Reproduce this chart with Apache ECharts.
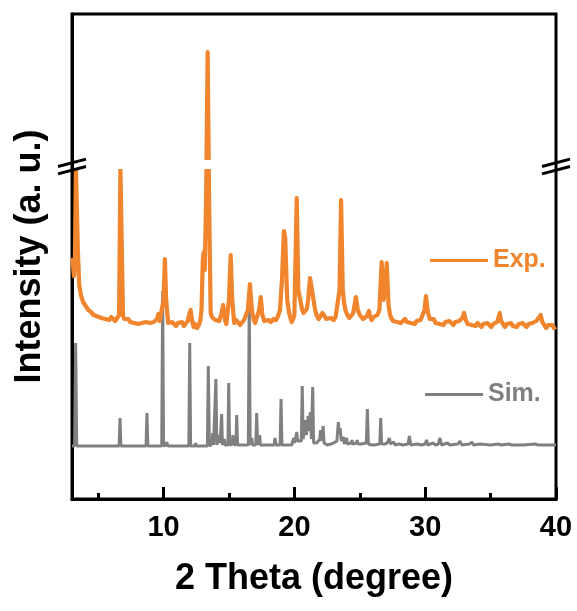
<!DOCTYPE html>
<html>
<head>
<meta charset="utf-8">
<script src="https://cdn.jsdelivr.net/npm/echarts@6/dist/echarts.min.js"></script>
<style>
html,body{margin:0;padding:0;background:#fff;}
#chart{width:577px;height:611px;}
</style>
</head>
<body>
<div id="chart"></div>
<script>
// ---- data: [2θ (degree), intensity (arbitrary display units)] ----
const expPattern = [
  [3.00,241],[3.08,234],[3.15,223],[3.22,237],[3.30,330],[3.38,330],[3.45,249],[3.55,214],[3.70,203],[3.85,197],
  [3.95,199],[4.05,193],[4.15,192],[4.25,189],[4.35,191],[4.45,187],[4.55,188],[4.65,184],[4.75,186],[4.85,183],
  [4.95,185],[5.05,182],[5.15,184],[5.25,181],[5.40,183],[5.55,180],[5.70,182],[5.85,179],[6.00,182],[6.15,180],
  [6.30,178],[6.45,181],[6.60,184],[6.70,330],[6.78,330],[6.90,183],[7.00,180],[7.15,178],[7.30,180],[7.45,177],
  [7.60,179],[7.75,176],[7.90,178],[8.05,175],[8.20,177],[8.35,176],[8.50,174],[8.65,177],[8.80,175],[8.95,176],
  [9.10,174],[9.25,177],[9.40,176],[9.50,180],[9.60,185],[9.70,178],[9.85,177],[10.00,199],[10.10,240],[10.20,199],
  [10.35,176],[10.50,174],[10.65,177],[10.80,175],[10.95,173],[11.10,176],[11.25,174],[11.40,177],[11.55,173],[11.70,175],
  [11.85,178],[11.95,184],[12.07,189],[12.20,177],[12.30,172],[12.40,175],[12.55,171],[12.70,174],[12.80,178],[12.90,189],
  [13.00,239],[13.07,247],[13.15,229],[13.25,299],[13.37,447],[13.48,299],[13.60,186],[13.70,182],[13.80,184],[13.95,179],
  [14.10,181],[14.25,178],[14.40,184],[14.56,194],[14.70,179],[14.80,175],[14.90,177],[15.00,199],[15.13,244],[15.25,199],
  [15.40,176],[15.55,179],[15.70,177],[15.85,174],[16.00,175],[16.15,179],[16.30,177],[16.45,189],[16.60,215],[16.75,189],
  [16.90,179],[17.00,176],[17.10,177],[17.30,189],[17.43,202],[17.55,184],[17.70,178],[17.80,176],[18.00,179],[18.20,177],
  [18.40,180],[18.60,179],[18.75,183],[18.90,189],[19.05,219],[19.20,268],[19.30,261],[19.45,199],[19.60,186],[19.70,181],
  [19.80,177],[19.90,180],[20.00,184],[20.18,301],[20.30,209],[20.45,199],[20.60,189],[20.70,186],[20.80,184],[20.95,190],
  [21.05,199],[21.20,221],[21.35,209],[21.50,196],[21.60,188],[21.70,184],[21.85,180],[22.00,182],[22.15,186],[22.30,184],
  [22.45,180],[22.60,178],[22.80,181],[23.00,179],[23.15,182],[23.30,184],[23.45,209],[23.57,299],[23.70,209],[23.80,196],
  [23.90,189],[24.05,184],[24.20,181],[24.35,183],[24.50,186],[24.70,202],[24.85,189],[25.00,184],[25.10,182],[25.25,180],
  [25.40,179],[25.55,183],[25.70,188],[25.80,182],[25.90,179],[26.05,182],[26.20,181],[26.35,184],[26.50,189],[26.67,237],
  [26.82,199],[26.95,214],[27.06,236],[27.20,194],[27.30,185],[27.40,181],[27.55,178],[27.70,180],[27.85,177],[28.00,179],
  [28.15,176],[28.30,178],[28.45,180],[28.60,177],[28.75,179],[28.90,176],[29.05,178],[29.20,175],[29.35,178],[29.50,176],
  [29.65,179],[29.80,178],[29.95,189],[30.06,203],[30.20,187],[30.35,180],[30.50,178],[30.65,180],[30.80,176],[30.95,178],
  [31.10,175],[31.25,177],[31.40,174],[31.55,177],[31.70,175],[31.85,178],[32.00,176],[32.15,174],[32.30,177],[32.45,175],
  [32.60,178],[32.75,176],[32.85,181],[32.97,186],[33.10,179],[33.25,175],[33.40,177],[33.55,174],[33.70,176],[33.85,173],
  [34.00,176],[34.15,174],[34.30,172],[34.45,175],[34.60,173],[34.75,176],[34.90,174],[35.05,172],[35.20,175],[35.35,174],
  [35.50,177],[35.60,178],[35.70,186],[35.80,178],[35.95,175],[36.10,172],[36.25,175],[36.40,173],[36.55,176],[36.70,173],
  [36.85,175],[37.00,172],[37.15,175],[37.30,173],[37.45,176],[37.60,174],[37.75,172],[37.90,175],[38.05,173],[38.20,176],
  [38.35,175],[38.50,178],[38.65,180],[38.83,184],[38.95,177],[39.10,174],[39.25,171],[39.40,174],[39.55,172],[39.70,174],
  [39.85,171],[40.00,172]
];

const simPattern = [
  [3.0,53],[3.2,53],[3.28,156],[3.36,53],[6.6,53],[6.67,81],[6.74,53],[8.66,53],[8.73,86],[8.8,53],
  [9.86,53],[9.93,208],[10.0,53],[10.18,54],[10.25,57],[10.32,53],[11.93,53],[12.0,156],[12.07,53],[12.4,53],
  [12.45,56],[12.5,53],[13.35,53],[13.42,133],[13.5,53],[13.7,55],[13.75,66],[13.82,54],[13.93,54],[14.0,120],
  [14.07,54],[14.2,54],[14.25,64],[14.32,56],[14.38,56],[14.44,85],[14.5,54],[14.6,56],[14.65,60],[14.7,54],
  [14.92,54],[14.98,116],[15.05,54],[15.25,55],[15.3,64],[15.35,55],[15.53,54],[15.59,84],[15.66,54],[16.0,54],
  [16.2,54],[16.48,54],[16.55,204],[16.62,54],[16.7,55],[16.75,61],[16.8,54],[17.05,54],[17.12,86],[17.19,54],
  [17.3,55],[17.35,64],[17.4,54],[18.0,54],[18.1,56],[18.2,54],[18.45,54],[18.52,61],[18.6,54],[18.91,54],
  [18.98,100],[19.05,54],[19.6,54],[19.7,56],[19.8,54],[19.9,56],[19.95,61],[20.02,56],[20.1,58],[20.18,67],
  [20.25,58],[20.35,57],[20.53,58],[20.6,113],[20.67,60],[20.8,62],[20.85,79],[20.92,64],[21.0,66],[21.05,83],
  [21.1,68],[21.18,70],[21.22,87],[21.3,60],[21.34,60],[21.4,112],[21.47,56],[21.6,54],[21.7,56],[21.8,55],
  [21.95,60],[22.0,69],[22.07,58],[22.15,60],[22.2,73],[22.27,56],[22.5,54],[22.8,55],[23.0,56],[23.25,58],
  [23.36,77],[23.43,65],[23.5,71],[23.58,58],[23.7,56],[23.75,62],[23.82,55],[23.95,56],[24.0,61],[24.06,55],
  [24.35,56],[24.4,59],[24.46,55],[24.75,56],[24.8,59],[24.86,55],[25.1,55],[25.5,56],[25.58,90],[25.66,55],
  [25.9,54],[26.0,56],[26.1,54],[26.53,55],[26.6,81],[26.67,55],[26.9,55],[27.1,56],[27.26,61],[27.35,55],
  [27.6,57],[27.7,54],[28.0,55],[28.3,54],[28.7,55],[28.79,63],[28.9,54],[29.4,55],[29.7,54],[30.0,55],
  [30.1,59],[30.2,54],[30.6,56],[30.8,54],[31.0,55],[31.13,61],[31.25,54],[31.7,56],[31.9,54],[32.5,55],
  [32.66,58],[32.8,54],[33.4,55],[33.56,57],[33.7,54],[34.2,55],[34.25,57],[34.35,54],[35.0,54],[35.6,55],
  [35.7,57],[35.8,54],[36.4,55],[36.5,57],[36.6,54],[37.5,54],[38.4,55],[38.53,57],[38.65,54],[39.2,54],
  [39.3,56],[39.4,54],[40.0,54]
];

const seriesNames = ['Exp.', 'Sim.'];
const xMajorTicks = [10, 20, 30, 40];
const xMinorTicks = [5, 15, 25, 35];
const X_MIN = 3, X_MAX = 40, Y_MIN = 0, Y_MAX = 485;
const BREAK_LOW = 330, BREAK_HIGH = 339;

const ORANGE = '#F0852D';
const GRAY = '#808080';
const FONT = '"Liberation Sans", Arial, sans-serif';

const chart = echarts.init(document.getElementById('chart'), null, {renderer: 'canvas'});

const option = {
  animation: false,
  backgroundColor: '#fff',
  grid: {left: 72, right: 21, top: 14, bottom: 112, show: true, borderColor: '#000', borderWidth: 3, containLabel: false},
  xAxis: [{
    type: 'value', min: X_MIN, max: X_MAX,
    name: '2 Theta (degree)', nameLocation: 'middle', nameGap: 62,
    nameTextStyle: {fontFamily: FONT, fontWeight: 'bold', fontSize: 36, color: '#000'},
    axisLine: {show: true, lineStyle: {color: '#000', width: 3}},
    axisTick: {show: true, inside: true, length: 12, lineStyle: {color: '#000', width: 3}, customValues: xMajorTicks},
    axisLabel: {show: true, customValues: xMajorTicks, margin: 14, fontFamily: FONT, fontWeight: 'bold', fontSize: 29, color: '#000'},
    splitLine: {show: false}
  }, {
    type: 'value', min: X_MIN, max: X_MAX, position: 'bottom',
    axisLine: {show: false},
    axisTick: {show: true, inside: true, length: 6, lineStyle: {color: '#000', width: 3}, customValues: xMinorTicks},
    axisLabel: {show: false},
    splitLine: {show: false}
  }],
  yAxis: {
    type: 'value', min: Y_MIN, max: Y_MAX,
    name: 'Intensity (a. u.)', nameLocation: 'middle', nameGap: 24,
    nameTextStyle: {fontFamily: FONT, fontWeight: 'bold', fontSize: 36, color: '#000'},
    axisLine: {show: true, lineStyle: {color: '#000', width: 3}},
    axisTick: {show: false}, axisLabel: {show: false}, splitLine: {show: false}
  },
  legend: [{
    data: [{name: seriesNames[0], textStyle: {color: ORANGE}}],
    left: 425, top: 243, icon: 'rect', itemWidth: 58, itemHeight: 3,
    textStyle: {fontFamily: FONT, fontWeight: 'bold', fontSize: 25}
  }, {
    data: [{name: seriesNames[1], textStyle: {color: GRAY}}],
    left: 420, top: 377, icon: 'rect', itemWidth: 58, itemHeight: 3,
    textStyle: {fontFamily: FONT, fontWeight: 'bold', fontSize: 25}
  }],
  series: [{
    name: seriesNames[0], type: 'line', data: expPattern,
    symbol: 'none', color: ORANGE, lineStyle: {color: ORANGE, width: 4.2, join: 'round'}, z: 3
  }, {
    name: seriesNames[1], type: 'line', data: simPattern,
    symbol: 'none', color: GRAY, lineStyle: {color: GRAY, width: 3}, z: 2
  }]
};
chart.setOption(option);

// axis-break decoration (white gap across the plot plus "//" marks on both vertical axes)
const pLo = chart.convertToPixel({gridIndex: 0}, [X_MIN, BREAK_LOW]);
const pHi = chart.convertToPixel({gridIndex: 0}, [X_MAX, BREAK_HIGH]);
const xL = pLo[0], xR = pHi[0];
const yGapTop = pHi[1], yGapBot = pLo[1];
const yMid = (yGapTop + yGapBot) / 2 + 2;
function slashes(cx) {
  const hw = 14, hh = 3.7, off = 3.7;
  return [
    {type: 'line', z: 101, shape: {x1: cx - hw, y1: yMid - off + hh, x2: cx + hw, y2: yMid - off - hh}, style: {stroke: '#000', lineWidth: 3}},
    {type: 'line', z: 101, shape: {x1: cx - hw, y1: yMid + off + hh, x2: cx + hw, y2: yMid + off - hh}, style: {stroke: '#000', lineWidth: 3}}
  ];
}
chart.setOption({
  graphic: [
    {type: 'rect', z: 100, shape: {x: xL + 2, y: yGapTop, width: xR - xL - 4, height: yGapBot - yGapTop}, style: {fill: '#fff'}},
    ...slashes(xL), ...slashes(xR)
  ]
});
</script>
</body>
</html>
